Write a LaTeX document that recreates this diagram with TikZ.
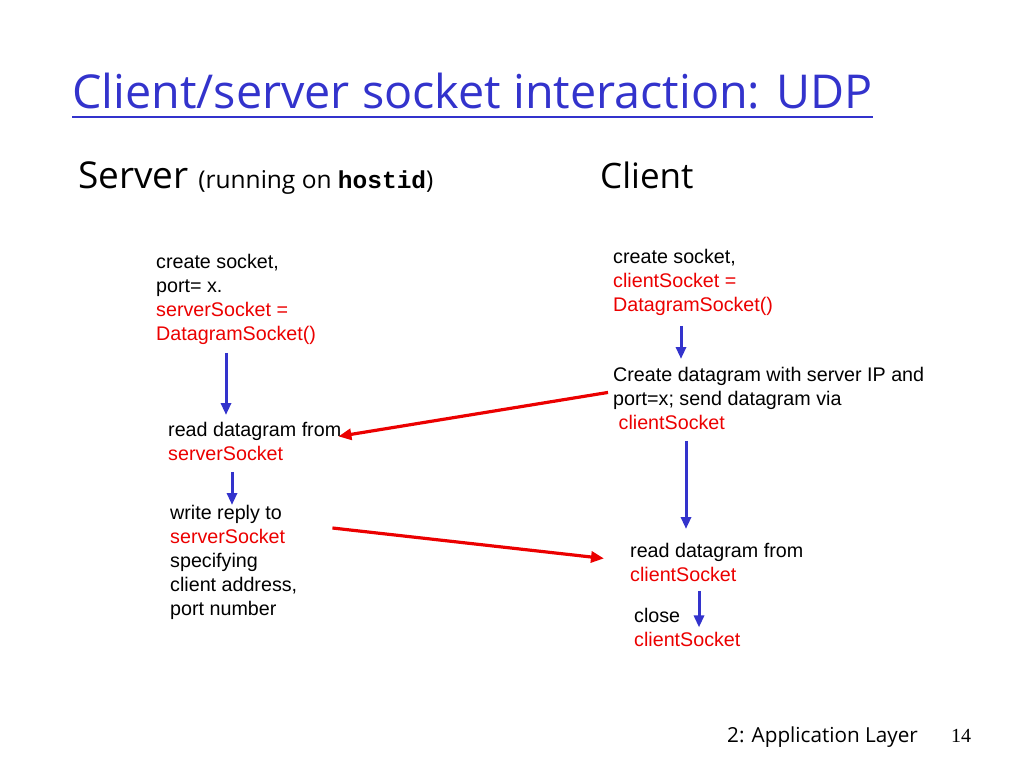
\documentclass[tikz,border=0pt]{standalone}
\usepackage{fontspec}
\setmainfont{Liberation Sans}
\setmonofont{Liberation Mono}
\newfontfamily\comicfont{Open Sans}
\newfontfamily\timesfont{Liberation Serif}
\usetikzlibrary{arrows.meta}
\definecolor{titleblue}{RGB}{51,51,204}
\definecolor{sockred}{RGB}{235,0,0}
\newcommand{\sock}[1]{\textcolor{sockred}{#1}}

\begin{document}
\begin{tikzpicture}[x=1pt, y=-1pt,
  stepnode/.style={anchor=north west, inner sep=0pt, align=left, font=\fontsize{19.7}{24}\selectfont},
  flow/.style={-{Triangle[length=12pt,width=10pt]}, line width=3pt, draw=titleblue},
  msg/.style={-{Triangle[length=13pt,width=11pt]}, line width=3.2pt, draw=sockred}]
  \useasboundingbox (0,0) rectangle (1024,768);

  % title
  \node[anchor=base west, inner sep=0pt, text=titleblue, font=\comicfont\fontsize{46.7}{52}\selectfont] (title) at (72,108) {Client/server socket interaction: UDP};
  \draw[titleblue, line width=2.8pt] ([yshift=-9pt]title.base west) -- ([yshift=-9pt]title.base east);

  % column heads
  \node[anchor=base west, inner sep=0pt] (server) at (78,188) {\comicfont\fontsize{37}{42}\selectfont Server \fontsize{24.5}{28}\selectfont(running on \texttt{\bfseries hostid})};
  \node[anchor=base west, inner sep=0pt] (client) at (600,188) {\comicfont\fontsize{35}{42}\selectfont Client};

  % server side
  \node[stepnode] (s1) at (156,254) {create socket,\\port= x.\\\sock{serverSocket =}\\\sock{DatagramSocket()}};
  \node[stepnode] (s2) at (168,422) {read datagram from\\\sock{serverSocket}};
  \node[stepnode] (s3) at (170,505) {write reply to\\\sock{serverSocket}\\specifying\\client address,\\port number};

  % client side
  \node[stepnode] (c1) at (613,249) {create socket,\\\sock{clientSocket =}\\\sock{DatagramSocket()}};
  \node[stepnode] (c2) at (613,367) {Create datagram with server IP and\\port=x; send datagram via\\\ \sock{clientSocket}};
  \node[stepnode] (c3) at (630,543) {read datagram from\\\sock{clientSocket}};
  \node[stepnode] (c4) at (634,608) {close\\\sock{clientSocket}};

  % flow on each side
  \draw[flow, shorten <=8pt, shorten >=7pt] ([xshift=70pt]s1.south west) -- ([xshift=70pt]s1.south west |- s2.north);
  \draw[flow, shorten <=11pt] ([xshift=64pt]s2.south west) -- ([xshift=64pt]s2.south west |- s3.north);
  \draw[flow, shorten <=10pt, shorten >=8pt] ([xshift=68pt]c1.south west) -- ([xshift=68pt]c1.south west |- c2.north);
  \draw[flow, shorten <=11pt, shorten >=14pt] ([xshift=73pt]c2.south west) -- ([xshift=73pt]c2.south west |- c3.north);
  \draw[flow, shorten <=9pt] ([xshift=69pt]c3.south west) -- ([xshift=69pt]c3.south west |- c4.west);

  % datagrams
  \draw[msg] ([xshift=-5pt,yshift=6pt]c2.west) -- ([xshift=-3pt,yshift=5pt]s2.east);
  \draw[msg] ([xshift=35pt,yshift=-23pt]s3.north east) -- ([xshift=-26pt,yshift=4pt]c3.west);

  % footer
  \node[anchor=base west, inner sep=0pt, font=\comicfont\fontsize{20.7}{24}\selectfont] (layer) at (727,742) {2: Application Layer};
  \node[anchor=base west, inner sep=0pt, font=\timesfont\fontsize{20}{22}\selectfont] (page) at (951,742) {14};
\end{tikzpicture}
\end{document}
